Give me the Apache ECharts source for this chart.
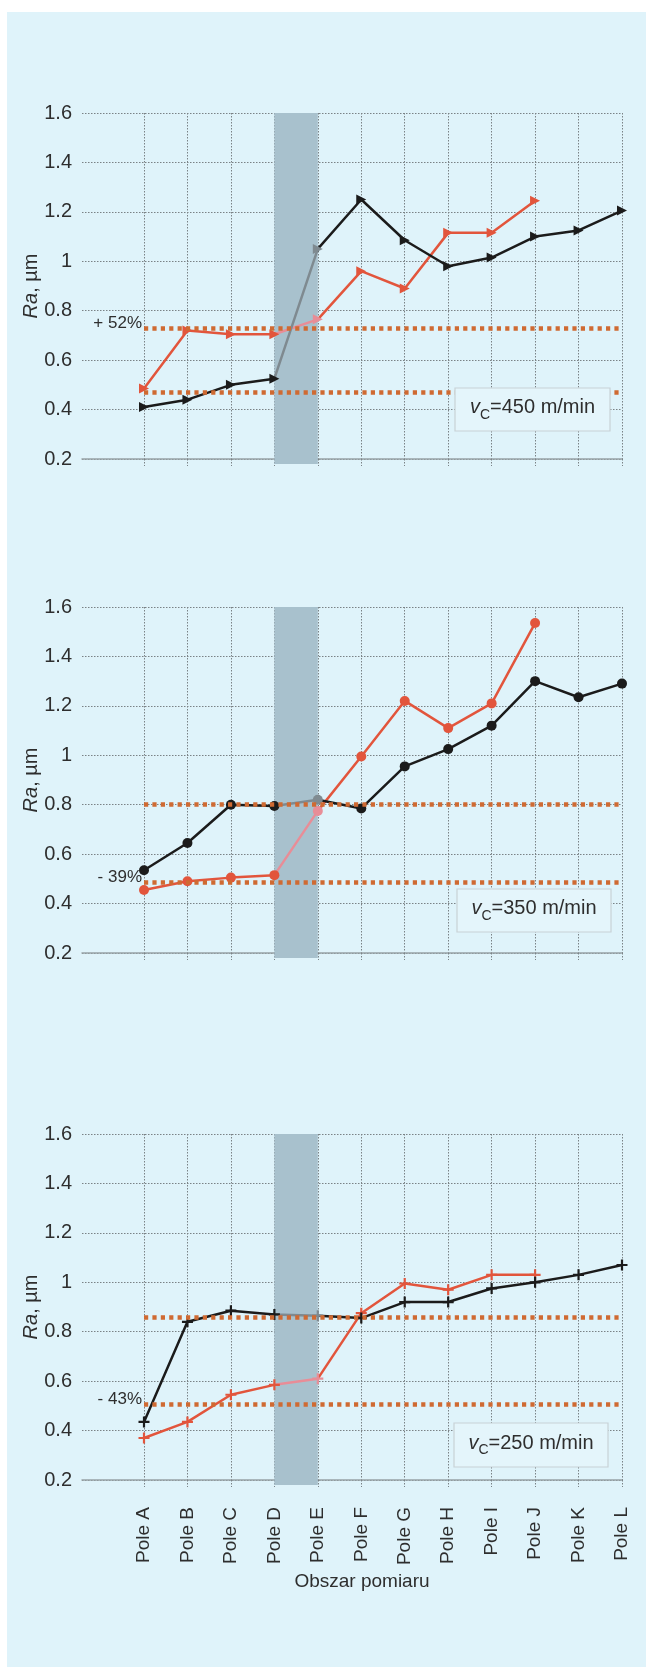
<!DOCTYPE html>
<html>
<head>
<meta charset="utf-8">
<script src="https://cdn.jsdelivr.net/npm/echarts@6/dist/echarts.min.js"></script>
<style>
  html, body { margin: 0; padding: 0; background: #ffffff; }
  #sheet { position: absolute; left: 7px; top: 12px; right: 0; bottom: 0; background: #dff3fa; }
  #chart { position: absolute; left: 0; top: 0; width: 646px; height: 1667px; }
</style>
</head>
<body>
<div id="sheet"></div>
<div id="chart"></div>
<script>
// Measurement fields along the workpiece
const categories = ['Pole A', 'Pole B', 'Pole C', 'Pole D', 'Pole E', 'Pole F',
                    'Pole G', 'Pole H', 'Pole I', 'Pole J', 'Pole K', 'Pole L'];
// Transition zone between fields D and E
const transitionZone = ['Pole D', 'Pole E'];

// Ra axis range, µm
const raMin = 0.2;
const raMax = 1.6;
const raStep = 0.2;

// vc = 450 m/min
const ra450Black = [0.41, 0.44, 0.50, 0.525, 1.05, 1.25, 1.085, 0.98, 1.015, 1.10, 1.125, 1.205];
const ra450Red   = [0.485, 0.72, 0.705, 0.705, 0.765, 0.96, 0.89, 1.115, 1.115, 1.245];
const ref450     = [0.73, 0.47];

// vc = 350 m/min
const ra350Black = [0.535, 0.645, 0.80, 0.795, 0.82, 0.785, 0.955, 1.025, 1.12, 1.30, 1.235, 1.29];
const ra350Red   = [0.455, 0.49, 0.505, 0.515, 0.775, 0.995, 1.22, 1.11, 1.21, 1.535];
const ref350     = [0.80, 0.485];

// vc = 250 m/min
const ra250Black = [0.435, 0.84, 0.885, 0.87, 0.865, 0.855, 0.92, 0.92, 0.975, 1.0, 1.03, 1.07];
const ra250Red   = [0.37, 0.435, 0.545, 0.585, 0.61, 0.875, 0.995, 0.97, 1.03, 1.03];
const ref250     = [0.86, 0.505];

const speeds = ['450', '350', '250'];
const changeNotes = ['+ 52%', '- 39%', '- 43%'];
const noteRefIndex = [0, 1, 1];

// ---- styling / layout ----
const FONT = "'Liberation Sans', Arial, sans-serif";
const TEXT = '#2e2e2e';
const GRID_LINE = { color: '#7a8286', width: 1, type: [1.5, 1.5] };
const BLACK = '#1b1b1b', BLACK_FADED = '#7f8a90';
const RED = '#e2553c', RED_FADED = '#e88d97';
const REF_COLOR = '#cf6a32';
const PLUS = 'path://M4,0h2v4h4v2h-4v4h-2v-4h-4v-2h4z';

const panelData = [
  { black: ra450Black, red: ra450Red, ref: ref450, symbol: 'triangle', size: 10, rotate: -90 },
  { black: ra350Black, red: ra350Red, ref: ref350, symbol: 'circle',   size: 10, rotate: 0 },
  { black: ra250Black, red: ra250Red, ref: ref250, symbol: PLUS,       size: 11, rotate: 0 }
];
const panelTop = [113, 607, 1134];
const panelHeight = 346;
const boxes = [
  { x: 455, y: 388, w: 155, h: 43 },
  { x: 457, y: 889, w: 154, h: 43 },
  { x: 454, y: 1423, w: 154, h: 44 }
];

const iD = categories.indexOf(transitionZone[0]);
const iE = categories.indexOf(transitionZone[1]);

const grid = [], xAxis = [], yAxis = [], series = [];
const blackIdx = [], redIdx = [];

panelData.forEach((p, i) => {
  const bg = 2 * i, fg = 2 * i + 1;
  const last = i === panelData.length - 1;
  grid.push({ left: 82, right: 24, top: panelTop[i], height: panelHeight });
  grid.push({ left: 144, right: 24, top: panelTop[i], height: panelHeight });

  xAxis.push({
    gridIndex: bg, type: 'value', min: 0, max: 1,
    axisLine: { show: true, lineStyle: { color: '#98a2a6', width: 1.5 } },
    axisTick: { show: false }, axisLabel: { show: false }, splitLine: { show: false }
  });
  xAxis.push({
    gridIndex: fg, type: 'category', data: categories, boundaryGap: false,
    axisLine: { show: false },
    axisTick: { show: true, length: 7, lineStyle: GRID_LINE },
    splitLine: { show: true, lineStyle: GRID_LINE },
    axisLabel: { show: last, rotate: 90, fontSize: 19, color: TEXT, margin: 27, fontFamily: FONT }
  });

  yAxis.push({
    gridIndex: bg, type: 'value', min: raMin, max: raMax, interval: raStep,
    axisLine: { show: false }, axisTick: { show: false },
    axisLabel: { fontSize: 20, color: TEXT, margin: 10, fontFamily: FONT,
                 formatter: v => String(+v.toFixed(1)) },
    splitLine: { show: true, lineStyle: GRID_LINE },
    name: '{i|Ra}{n|, µm}', nameLocation: 'middle', nameGap: 41, nameMoveOverlap: false,
    nameTextStyle: { rich: {
      i: { fontSize: 20, fontStyle: 'italic', color: TEXT, fontFamily: FONT },
      n: { fontSize: 20, color: TEXT, fontFamily: FONT } } }
  });
  yAxis.push({ gridIndex: fg, type: 'value', min: raMin, max: raMax, interval: raStep, show: false });

  // shaded transition zone
  series.push({
    type: 'custom', xAxisIndex: fg, yAxisIndex: fg, z: 1, silent: true, clip: false,
    data: [[iD, iE]],
    renderItem: (params, api) => {
      const a = api.coord([api.value(0), raMax]);
      const b = api.coord([api.value(1), raMin]);
      return { type: 'rect', shape: { x: a[0], y: a[1], width: b[0] - a[0], height: b[1] - a[1] + 5 },
               style: { fill: '#a8c1cd' } };
    }
  });

  // reference levels
  series.push({
    type: 'line', xAxisIndex: fg, yAxisIndex: fg, z: 2, data: [], silent: true,
    markLine: {
      silent: true, symbol: ['none', 'none'], label: { show: false },
      lineStyle: { color: REF_COLOR, width: 4.5, type: [4.2, 4.2] },
      data: p.ref.map(v => [{ coord: [categories[0], v] }, { coord: [categories[categories.length - 1], v] }])
    }
  });

  const common = {
    type: 'line', xAxisIndex: fg, yAxisIndex: fg, z: 3,
    symbol: p.symbol, symbolSize: p.size, symbolRotate: p.rotate, showSymbol: true,
    lineStyle: { width: 2.5 }
  };
  redIdx.push(series.length);
  series.push(Object.assign({}, common, { data: p.red }));
  blackIdx.push(series.length);
  series.push(Object.assign({}, common, { data: p.black }));
});

const zonePieces = (base, faded) => [
  { lte: iD, color: base }, { gt: iD, lte: iE, color: faded }, { gt: iE, color: base }
];

const chart = echarts.init(document.getElementById('chart'), null, { renderer: 'canvas' });
chart.setOption({
  backgroundColor: 'transparent',
  animation: false,
  textStyle: { fontFamily: FONT },
  grid, xAxis, yAxis, series,
  visualMap: [
    { type: 'piecewise', show: false, dimension: 0, seriesIndex: blackIdx, pieces: zonePieces(BLACK, BLACK_FADED) },
    { type: 'piecewise', show: false, dimension: 0, seriesIndex: redIdx, pieces: zonePieces(RED, RED_FADED) }
  ]
});

// notes, speed boxes and axis title
const graphic = [];
panelData.forEach((p, i) => {
  const pt = chart.convertToPixel({ gridIndex: 2 * i + 1 }, [categories[0], p.ref[noteRefIndex[i]]]);
  graphic.push({
    type: 'text', x: pt[0] - 2, y: pt[1] - 5, z: 10,
    style: { text: changeNotes[i], fontSize: 17, fontFamily: FONT, fill: TEXT,
             align: 'right', verticalAlign: 'middle', textAlign: 'right', textVerticalAlign: 'middle' }
  });
  const b = boxes[i];
  graphic.push({
    type: 'rect', z: 10, shape: { x: b.x, y: b.y, width: b.w, height: b.h },
    style: { fill: '#e4f5fb', stroke: '#c8d2d6', lineWidth: 1.2 }
  });
  graphic.push({
    type: 'text', z: 11, x: b.x + b.w / 2, y: b.y + b.h / 2 - 2,
    style: {
      text: '{v|v}{c|C}{t|=' + speeds[i] + ' m/min}',
      align: 'center', verticalAlign: 'middle', textAlign: 'center', textVerticalAlign: 'middle',
      rich: {
        v: { fontSize: 20, fontStyle: 'italic', fill: TEXT, fontFamily: FONT },
        c: { fontSize: 14, fill: TEXT, fontFamily: FONT, padding: [15, 0, 0, 0] },
        t: { fontSize: 20, fill: TEXT, fontFamily: FONT }
      }
    }
  });
});
graphic.push({
  type: 'text', x: 362, y: 1582, z: 10,
  style: { text: 'Obszar pomiaru', fontSize: 19, fontFamily: FONT, fill: TEXT,
           align: 'center', verticalAlign: 'middle', textAlign: 'center', textVerticalAlign: 'middle' }
});
chart.setOption({ graphic });
</script>
</body>
</html>
